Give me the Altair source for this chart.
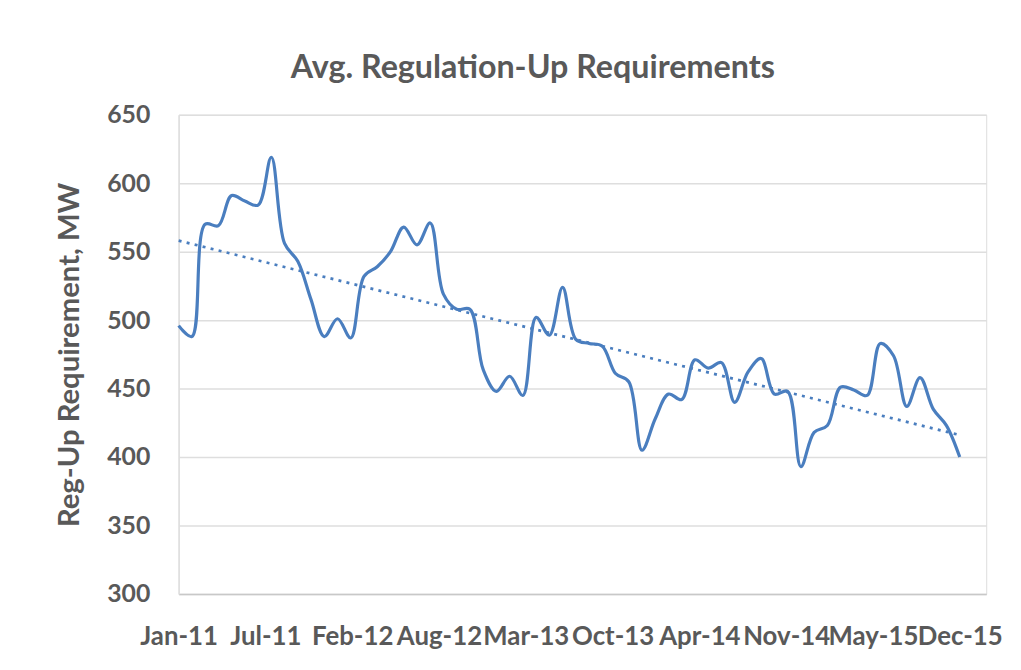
import altair as alt
import pandas as pd

# Monthly average Reg-Up requirement (MW), Jan-11 .. Dec-15
values = [
    496, 488, 570, 569, 591, 587, 584, 619, 556, 543,
    515, 488, 501, 487, 532, 539, 550, 568, 555, 571,
    519, 508, 508, 464, 448, 459, 445, 502, 489, 524,
    486, 483, 481, 461, 455, 405, 428, 446, 442, 471,
    465, 469, 440, 462, 472, 446, 448, 393, 418, 423,
    451, 449, 445, 483, 474, 437, 458, 435, 423, 400,
]
x_labels = ["Jan-11", "Jul-11", "Feb-12", "Aug-12", "Mar-13",
            "Oct-13", "Apr-14", "Nov-14", "May-15", "Dec-15"]
y_ticks = [300, 350, 400, 450, 500, 550, 600, 650]

n = len(values)
df = pd.DataFrame({"i": list(range(n)), "v": values})

k = len(x_labels) - 1
tick_pos = [j * (n - 1) / k for j in range(len(x_labels))]
label_expr = "[" + ",".join(f"'{s}'" for s in x_labels) + f"][round(datum.value*{k}/{n - 1})]"

FONT = "Lato"
GREY = "#595959"
BLUE = "#4a7ebf"

x_enc = alt.X(
    "i:Q",
    scale=alt.Scale(domain=[0, n + 1], nice=False, zero=False),
    axis=alt.Axis(
        values=tick_pos, labelExpr=label_expr, title=None, grid=False,
        ticks=False, labelPadding=30, labelOverlap=False, labelFlush=False,
        labelBound=False, domainColor="#c8c8c8", domainWidth=1.5,
        labelFont=FONT, labelFontSize=26, labelFontWeight="bold",
        labelColor=GREY,
    ),
)
y_enc = alt.Y(
    "v:Q",
    scale=alt.Scale(domain=[300, 650], nice=False, zero=False),
    axis=alt.Axis(
        values=y_ticks, title="Reg-Up Requirement, MW", ticks=False,
        labelPadding=29, gridColor="#dedede", gridWidth=1.5,
        domainColor="#dedede", domainWidth=1.5,
        labelFont=FONT, labelFontSize=25, labelFontWeight="bold",
        labelColor=GREY, titleFont=FONT, titleFontSize=29.5,
        titleFontWeight="bold", titleColor=GREY, titleX=-95,
    ),
)

base = alt.Chart(df)

line = base.mark_line(
    color=BLUE, strokeWidth=3.2, interpolate="catmull-rom"
).encode(x=x_enc, y=y_enc)

trend = base.transform_regression("i", "v").mark_line(
    color=BLUE, strokeWidth=2.7, strokeDash=[3, 5.3]
).encode(x="i:Q", y="v:Q")

chart = alt.layer(line, trend).properties(
    width=814,
    height=483,
    title=alt.Title(
        "Avg. Regulation-Up Requirements", font=FONT, fontSize=32.5,
        fontWeight="bold", color=GREY, anchor="middle", frame="group",
        baseline="alphabetic", offset=36, dx=-50, dy=43,
    ),
    autosize=alt.AutoSizeParams(type="none"),
    padding={"left": 172, "top": 105, "right": 27, "bottom": 74},
).configure_view(stroke=None).configure(background="white")

chart.save("out.html", embed_options={"renderer": "svg", "actions": False})
